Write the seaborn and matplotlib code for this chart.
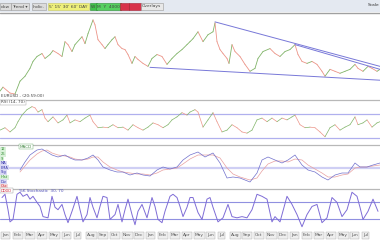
import matplotlib
matplotlib.use("Agg")
import matplotlib.pyplot as plt
from matplotlib.patches import Rectangle
import seaborn as sns
import pandas as pd

sns.set_theme(style="white")
plt.rcParams['font.family'] = ['DejaVu Sans']

# ---------------- data ----------------
price_t = [0,3,10,15,20,25,30,33,37,42,45,50,53,58,62,65,68,72,75,82,85,88,93,95,98,102,105,108,112,115,
           118,122,125,128,132,135,138,143,148,152,157,162,167,172,177,182,187,190,193,198,203,208,213,215,217,220,223,227,229,232,
           235,240,245,250,255,258,263,270,275,280,285,290,295,298,302,307,312,317,322,325,330,335,340,345,350,355,358,363,368,372,377,380]
price = [10,14,8,7,20,25,33,40,45,48,43,47,51,48,45,60,57,50,57,65,58,68,82,77,62,57,53,57,62,65,
         57,53,52,47,38,45,42,38,35,43,47,45,37,43,48,52,57,60,63,70,60,67,70,79,60,52,48,43,38,57,
         50,45,37,30,33,43,50,53,48,45,50,52,57,47,40,38,40,37,30,25,32,30,28,30,32,37,33,30,35,33,30,32]

trend_upper1_t = [215, 380]
trend_upper1 = [80, 35]
trend_upper2_t = [295, 380]
trend_upper2 = [57, 32]
trend_lower_t = [150, 380]
trend_lower = [34, 21]

rsi_t = [0,5,10,15,18,22,27,32,35,38,42,45,48,53,58,63,67,70,75,80,85,90,93,98,103,108,113,118,123,128,
         133,138,143,148,153,158,163,168,172,177,182,187,190,195,198,203,208,213,217,222,227,232,237,242,247,252,257,262,267,272,
         277,282,287,292,295,300,305,310,315,320,325,330,335,340,345,350,355,358,363,367,372,377,380]
rsi = [43,47,40,47,57,68,77,82,80,73,77,63,57,65,55,60,68,55,60,57,63,68,57,47,48,47,52,47,48,43,
       52,47,43,48,55,52,47,52,60,65,72,68,73,77,73,48,60,72,57,40,43,52,47,40,38,43,60,63,57,63,
       57,63,60,65,68,52,47,48,47,40,32,47,52,43,48,52,65,52,55,60,48,55,57]
rsi_levels = [70, 30]

macd_t = [20,25,30,37,42,47,52,58,65,70,75,82,88,93,98,103,110,117,123,130,137,143,150,157,163,170,177,183,190,198,
          205,213,220,227,233,240,250,257,262,268,275,282,288,295,302,308,315,322,328,335,342,348,355,360,367,373,380]
macd = [-2,6,13,18,19,16,13,11,13,10,8,8,10,13,8,1,-2,-4,-4,-7,-5,-7,-8,-2,1,-1,1,8,13,16,
        11,15,5,-10,-9,-10,-14,-5,8,11,8,5,8,13,3,-2,-4,-9,-12,-7,-5,-5,5,1,1,3,5]
signal = [-4,2,8,14,17,18,15,13,12,11,9,8,9,11,11,6,1,-2,-4,-5,-6,-6,-7,-5,-2,-1,0,4,9,13,
          13,13,10,0,-6,-9,-12,-10,-3,4,7,7,6,9,8,3,-1,-5,-9,-9,-7,-6,0,1,1,2,3]

stoch_t = [2,5,8,10,13,17,20,23,27,30,33,37,40,43,48,52,55,58,62,65,68,72,77,80,83,87,90,93,97,100,
           103,107,110,115,118,122,125,128,132,135,138,142,147,152,155,158,162,165,170,173,177,180,183,187,190,193,198,202,207,210,
           213,218,223,228,232,237,242,247,252,257,262,267,272,275,280,287,292,297,302,307,312,317,322,327,332,337,342,347,352,357,
           360,363,368,373,378]
stoch = [82,90,52,22,28,90,95,85,90,78,85,70,60,35,32,85,58,52,65,40,20,48,85,52,22,40,82,58,32,60,
         85,82,28,40,65,22,52,78,40,15,48,65,32,82,60,28,20,48,85,90,82,60,35,58,82,82,45,28,78,82,
         58,22,32,65,35,32,35,32,52,90,85,78,22,35,22,85,65,40,10,40,60,65,20,32,82,70,35,52,95,85,
         58,28,48,78,48]
stoch_levels = [70, 30]

tick_t = [2,14,26,38,50,63,75,87,99,111,123,135,147,159,171,183,195,207,219,231,243,255,267,279,291,303,315,327,339,351,363]
tick_labels = ["Jan","Feb","Mar","Apr","May","Jun","Jul","Aug","Sep","Oct","Nov","Dec",
               "Jan","Feb","Mar","Apr","May","Jun","Jul","Aug","Sep","Oct","Nov","Dec",
               "Jan","Feb","Mar","Apr","May","Jun","Jul"]

# ---------------- figure ----------------
W, H = 380, 240
fig = plt.figure(figsize=(3.8, 2.4), dpi=100)
fig.patch.set_facecolor("white")

def add_ax(top, bottom):
    ax = fig.add_axes([0, 1 - bottom / H, 1, (bottom - top) / H])
    ax.set_xlim(0, 380)
    ax.set_xticks([])
    ax.set_yticks([])
    for s in ["left", "right", "bottom"]:
        ax.spines[s].set_visible(False)
    ax.spines["top"].set_color("#b8b8b8")
    ax.spines["top"].set_linewidth(0.9)
    ax.set_facecolor("white")
    ax.set_xlabel("")
    ax.set_ylabel("")
    return ax

UP, DOWN = "#80b468", "#ec9488"
LINE = "#7878d8"
LEVEL = "#b0b0ee"

# price panel
ax_p = add_ax(12, 98)
ax_p.set_ylim(3, 90)
for i in range(1, len(price)):
    c = UP if price[i] >= price[i - 1] else DOWN
    ax_p.plot(price_t[i - 1:i + 1], price[i - 1:i + 1], color=c, lw=0.6)
for tt, vv in [(trend_upper1_t, trend_upper1), (trend_upper2_t, trend_upper2), (trend_lower_t, trend_lower)]:
    sns.lineplot(x=tt, y=vv, ax=ax_p, color=LINE, lw=0.7)
ax_p.spines["top"].set_visible(False)
ax_p.set_xlabel(""); ax_p.set_ylabel("")

# RSI panel
ax_r = add_ax(100, 144)
ax_r.set_ylim(20, 93)
for lv in rsi_levels:
    ax_r.axhline(lv, color=LEVEL, lw=0.9)
for i in range(1, len(rsi)):
    c = UP if rsi[i] >= rsi[i - 1] else DOWN
    ax_r.plot(rsi_t[i - 1:i + 1], rsi[i - 1:i + 1], color=c, lw=0.5)

# MACD panel
ax_m = add_ax(145, 188)
ax_m.set_ylim(-20, 23)
ax_m.axhline(0, color="#cfcff4", lw=1.6)
df_m = pd.DataFrame({"t": macd_t, "macd": macd, "signal": signal})
sns.lineplot(data=df_m, x="t", y="signal", ax=ax_m, color="#e8a0a0", lw=0.5)
sns.lineplot(data=df_m, x="t", y="macd", ax=ax_m, color="#7070cc", lw=0.5)
ax_m.set_xlabel(""); ax_m.set_ylabel("")

# Stochastic panel
ax_s = add_ax(189, 230)
ax_s.set_ylim(2, 103)
for lv in stoch_levels:
    ax_s.axhline(lv, color="#9090e0", lw=0.8)
sns.lineplot(x=stoch_t, y=stoch, ax=ax_s, color="#7e6cd6", lw=0.7)
ax_s.set_xlabel(""); ax_s.set_ylabel("")
ax_s.set_xticks(tick_t)
ax_s.set_xticklabels(tick_labels, fontsize=3.2, color="#555555")
ax_s.tick_params(axis="x", length=0, pad=2.5)
for lab in ax_s.get_xticklabels():
    lab.set_ha("left")
    lab.set_bbox(dict(boxstyle="square,pad=0.25", fc="#eeeeee", ec="#aaaaaa", lw=0.3))

# toolbar
fig.add_artist(Rectangle((0, 1 - 12 / H), 1, 12 / H, transform=fig.transFigure,
                         fc="#e4e9f1", ec="none", zorder=0))
fig.add_artist(plt.Line2D([0, 1], [1 - 12.5 / H, 1 - 12.5 / H], transform=fig.transFigure,
                          color="#a0a0a0", lw=1.0))

def btn(x, text, fc, ec="#999999", color="#444444"):
    fig.text(x / W, 1 - 6.5 / H, text, fontsize=3.2, va="center", ha="left", color=color,
             bbox=dict(boxstyle="square,pad=0.3", fc=fc, ec=ec, lw=0.4))

btn(1, "dow", "#dcdcdc")
btn(12, "Trend \u25be", "#dcdcdc")
btn(33, "Indic.", "#dcdcdc")
btn(49, "5' 15' 30' 60' DAY", "#eef07a", ec="#c8c860")
btn(91, "W", "#3fc24a", ec="#2a8a30")
btn(97, "M  Y  4000", "#55d060", ec="#2a8a30")
btn(121, "DD", "#d8324a", ec="#a02030", color="#d8324a")
btn(130, "DDD", "#d8324a", ec="#a02030", color="#d8324a")
btn(142, "Overlays", "#e8e8e8")
fig.text(379 / W, 1 - 5 / H, "Scale", fontsize=3.2, va="center", ha="right", color="#333333")

# panel labels
fig.text(1 / W, 1 - 96 / H, "EURUSD - (20:59:00)", fontsize=3.0, va="center", color="#444444")
fig.text(1 / W, 1 - 102.5 / H, "RSI (14, 70)", fontsize=3.0, va="center", color="#444444",
         bbox=dict(boxstyle="square,pad=0.2", fc="white", ec="#999999", lw=0.3))
fig.text(20 / W, 1 - 146.5 / H, "MACD", fontsize=3.0, va="center", color="#448844",
         bbox=dict(boxstyle="square,pad=0.2", fc="white", ec="#66aa66", lw=0.3))
leg = [("12", "#2e8b2e", "#d8f0d8"), ("26", "#2e8b2e", "#d8f0d8"), ("9", "#2e8b2e", "#d8f0d8"),
       ("MA", "#3333aa", "#d8d8f4"), ("EMA", "#3333aa", "#d8d8f4"), ("Sig", "#3333aa", "#d8d8f4"),
       ("Hist", "#2e8b2e", "#d8f0d8"), ("Div", "#3333aa", "#d8d8f4"), ("Osc", "#cc2233", "#f4d8d8")]
for k, (t, c, f) in enumerate(leg):
    fig.text(1 / W, 1 - (149.5 + k * 4.6) / H, t, fontsize=2.6, va="center", color=c,
             bbox=dict(boxstyle="square,pad=0.15", fc=f, ec="none"))
fig.text(1 / W, 1 - 190.5 / H, "DDDD", fontsize=2.6, va="center", color="#cc2233",
         bbox=dict(boxstyle="square,pad=0.15", fc="white", ec="#999999", lw=0.3))
fig.text(19 / W, 1 - 191 / H, "%K Stochastic  30, 70", fontsize=3.0, va="center", color="#5555bb")

fig.savefig("out.png", dpi=100)
